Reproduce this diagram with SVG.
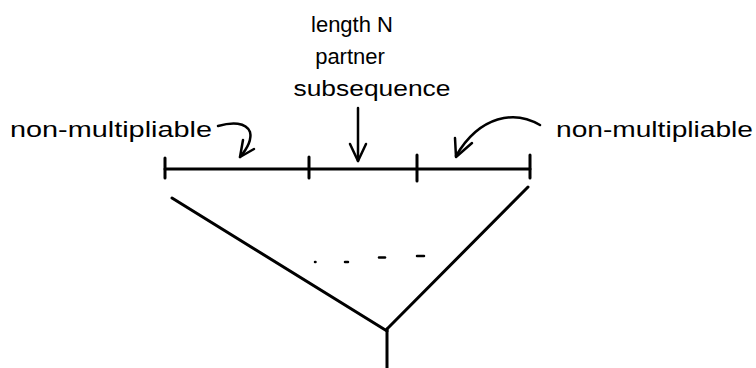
<svg xmlns="http://www.w3.org/2000/svg" width="756" height="368" viewBox="0 0 756 368">
<style>
.t{font-family:"Liberation Sans","DejaVu Sans",sans-serif;font-size:22px;fill:#000}
.ln{stroke:#000;stroke-width:3;fill:none;stroke-linecap:round;stroke-linejoin:round}
.ar{stroke:#000;stroke-width:2.5;fill:none;stroke-linecap:round;stroke-linejoin:round}
.d{stroke:#000;stroke-width:2.5;stroke-linecap:round}
</style>
<rect width="756" height="368" fill="#fff"/>
<g id="label-partner">
<text class="t" x="352" y="32" text-anchor="middle">length N</text>
<text class="t" x="350" y="64" text-anchor="middle">partner</text>
<text class="t" x="372" y="96" text-anchor="middle" textLength="157" lengthAdjust="spacingAndGlyphs">subsequence</text>
</g>
<g id="label-left">
<text class="t" x="10" y="137" textLength="202" lengthAdjust="spacingAndGlyphs">non-multipliable</text>
</g>
<g id="label-right">
<text class="t" x="556" y="137" textLength="197" lengthAdjust="spacingAndGlyphs">non-multipliable</text>
</g>
<g id="sequence">
<line class="ln" x1="165" y1="169" x2="530" y2="169"/>
<line class="ln" x1="165" y1="158" x2="165" y2="178"/>
<line class="ln" x1="309" y1="157" x2="309" y2="178"/>
<line class="ln" x1="417" y1="155" x2="417" y2="181"/>
<line class="ln" x1="530" y1="155" x2="530" y2="178"/>
</g>
<g id="tree">
<line class="ln" x1="172" y1="198" x2="387" y2="331"/>
<line class="ln" x1="528" y1="187" x2="387" y2="329"/>
<line class="ln" x1="387" y1="329" x2="387" y2="368"/>
<line class="d" x1="315" y1="262" x2="315.5" y2="262"/>
<line class="d" x1="345" y1="262" x2="348" y2="262"/>
<line class="d" x1="379" y1="257.5" x2="385" y2="257.5"/>
<line class="d" x1="417" y1="256" x2="424" y2="256"/>
</g>
<g id="connectors">
<path class="ar" d="M218,126 C232,122 246,122 250,132 C252,140 246,150 240,157"/>
<path class="ar" d="M243,140 L240,157 L254,149"/>
<path class="ar" d="M358,108 L358,161"/>
<path class="ar" d="M350,144 L358,161 L366,144"/>
<path class="ar" d="M540,125 C515,110 480,115 456,156"/>
<path class="ar" d="M455,138 L456,157 L472,143"/>
</g>
</svg>
